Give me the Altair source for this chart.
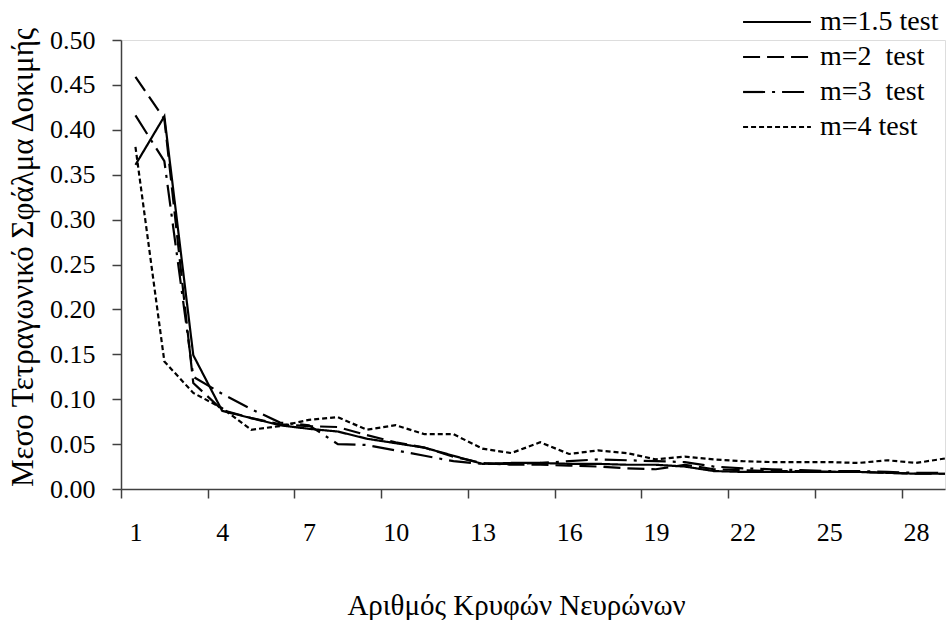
import altair as alt
import pandas as pd

# ---- data ----
neurons = list(range(1, 30))
m15 = [0.361, 0.415, 0.149, 0.087, 0.079, 0.071, 0.067, 0.064, 0.056, 0.051,
       0.046, 0.037, 0.028, 0.029, 0.029, 0.028, 0.028, 0.027, 0.027, 0.025,
       0.020, 0.019, 0.019, 0.019, 0.019, 0.019, 0.018, 0.017, 0.017]
m2 = [0.459, 0.412, 0.118, 0.088, 0.079, 0.072, 0.070, 0.069, 0.060, 0.052,
      0.046, 0.036, 0.029, 0.027, 0.027, 0.026, 0.025, 0.023, 0.022, 0.027,
      0.022, 0.021, 0.020, 0.020, 0.019, 0.019, 0.018, 0.017, 0.017]
m3 = [0.416, 0.365, 0.125, 0.106, 0.089, 0.074, 0.071, 0.050, 0.049, 0.043,
      0.037, 0.031, 0.028, 0.028, 0.029, 0.031, 0.033, 0.032, 0.031, 0.030,
      0.025, 0.023, 0.022, 0.021, 0.020, 0.020, 0.019, 0.018, 0.018]
m4 = [0.381, 0.142, 0.107, 0.090, 0.066, 0.070, 0.077, 0.080, 0.066, 0.071,
      0.061, 0.061, 0.045, 0.040, 0.052, 0.039, 0.043, 0.040, 0.033, 0.036,
      0.033, 0.031, 0.030, 0.030, 0.030, 0.029, 0.032, 0.029, 0.034]
series_names = ["m=1.5 test", "m=2\u00a0 test", "m=3\u00a0 test", "m=4 test"]
x_label_values = [1, 4, 7, 10, 13, 16, 19, 22, 25, 28]
y_tick_values = [0.0, 0.05, 0.1, 0.15, 0.2, 0.25, 0.3, 0.35, 0.4, 0.45, 0.5]
x_title = "Αριθμός Κρυφών Νευρώνων"
y_title = "Μεσο Τετραγωνικό Σφάλμα  Δοκιμής"

rows = []
for name, vals in zip(series_names, [m15, m2, m3, m4]):
    for n, v in zip(neurons, vals):
        rows.append({"neurons": n, "mse": v, "series": name})
df = pd.DataFrame(rows)

# ticks sit between categories, labels on the categories
x_axis_values = sorted(x_label_values + [v - 0.5 for v in x_label_values])

FONT = "Liberation Serif"
FS = 26
AXIS_COLOR = "#404040"

chart = alt.Chart(df).mark_line(color="black", strokeWidth=2.2).encode(
    x=alt.X(
        "neurons:Q",
        scale=alt.Scale(domain=[0.5, 29], nice=False, zero=False),
        axis=alt.Axis(
            values=x_axis_values,
            title=x_title,
            labelExpr="datum.value % 1 === 0 ? format(datum.value, 'd') : ''",
            tickOpacity={"condition": {"test": "datum.value % 1 !== 0", "value": 1}, "value": 0},
            tickSize=9,
            tickWidth=1.5,
            tickColor=AXIS_COLOR,
            domainColor=AXIS_COLOR,
            domainWidth=1.5,
            labelPadding=34,
            labelBaseline="middle",
            labelFont=FONT,
            labelFontSize=FS,
            labelColor="black",
            labelFlush=False,
            labelOverlap=False,
            grid=False,
            titleFont=FONT,
            titleFontSize=29,
            titleFontWeight="normal",
            titleColor="black",
            titleX=395,
            titleY=116,
            titleAlign="center",
            titleBaseline="middle",
        ),
    ),
    y=alt.Y(
        "mse:Q",
        scale=alt.Scale(domain=[0, 0.5], nice=False),
        axis=alt.Axis(
            values=y_tick_values,
            format=".2f",
            title=y_title,
            tickSize=9,
            tickWidth=1.5,
            tickColor=AXIS_COLOR,
            domainColor=AXIS_COLOR,
            domainWidth=1.5,
            labelPadding=17,
            labelFont=FONT,
            labelFontSize=FS,
            labelColor="black",
            labelFlush=False,
            labelOverlap=False,
            grid=False,
            titleFont=FONT,
            titleFontSize=31,
            titleFontWeight="normal",
            titleColor="black",
            titleAngle=270,
            titleX=-98,
            titleY=217,
            titleAlign="center",
            titleBaseline="middle",
        ),
    ),
    strokeDash=alt.StrokeDash(
        "series:N",
        scale=alt.Scale(
            domain=series_names,
            range=[[1, 0], [17, 7], [22, 7, 3, 7], [5, 3]],
        ),
        legend=alt.Legend(
            title=None,
            orient="none",
            legendX=642,
            legendY=-32,
            padding=0,
            symbolType="M-6,0H6",
            symbolSize=128,
            symbolStrokeWidth=2.2,
            symbolStrokeColor="black",
            labelOffset=29,
            labelFont=FONT,
            labelFontSize=28,
            labelColor="black",
            rowPadding=7,
        ),
    ),
).properties(
    width=824,
    height=449,
    autosize=alt.AutoSizeParams(type="none"),
    padding={"left": 121, "top": 40, "right": 2, "bottom": 131},
).configure_view(stroke=None).configure(background="white")

chart.save("out.html", embed_options={"renderer": "svg", "actions": False})
